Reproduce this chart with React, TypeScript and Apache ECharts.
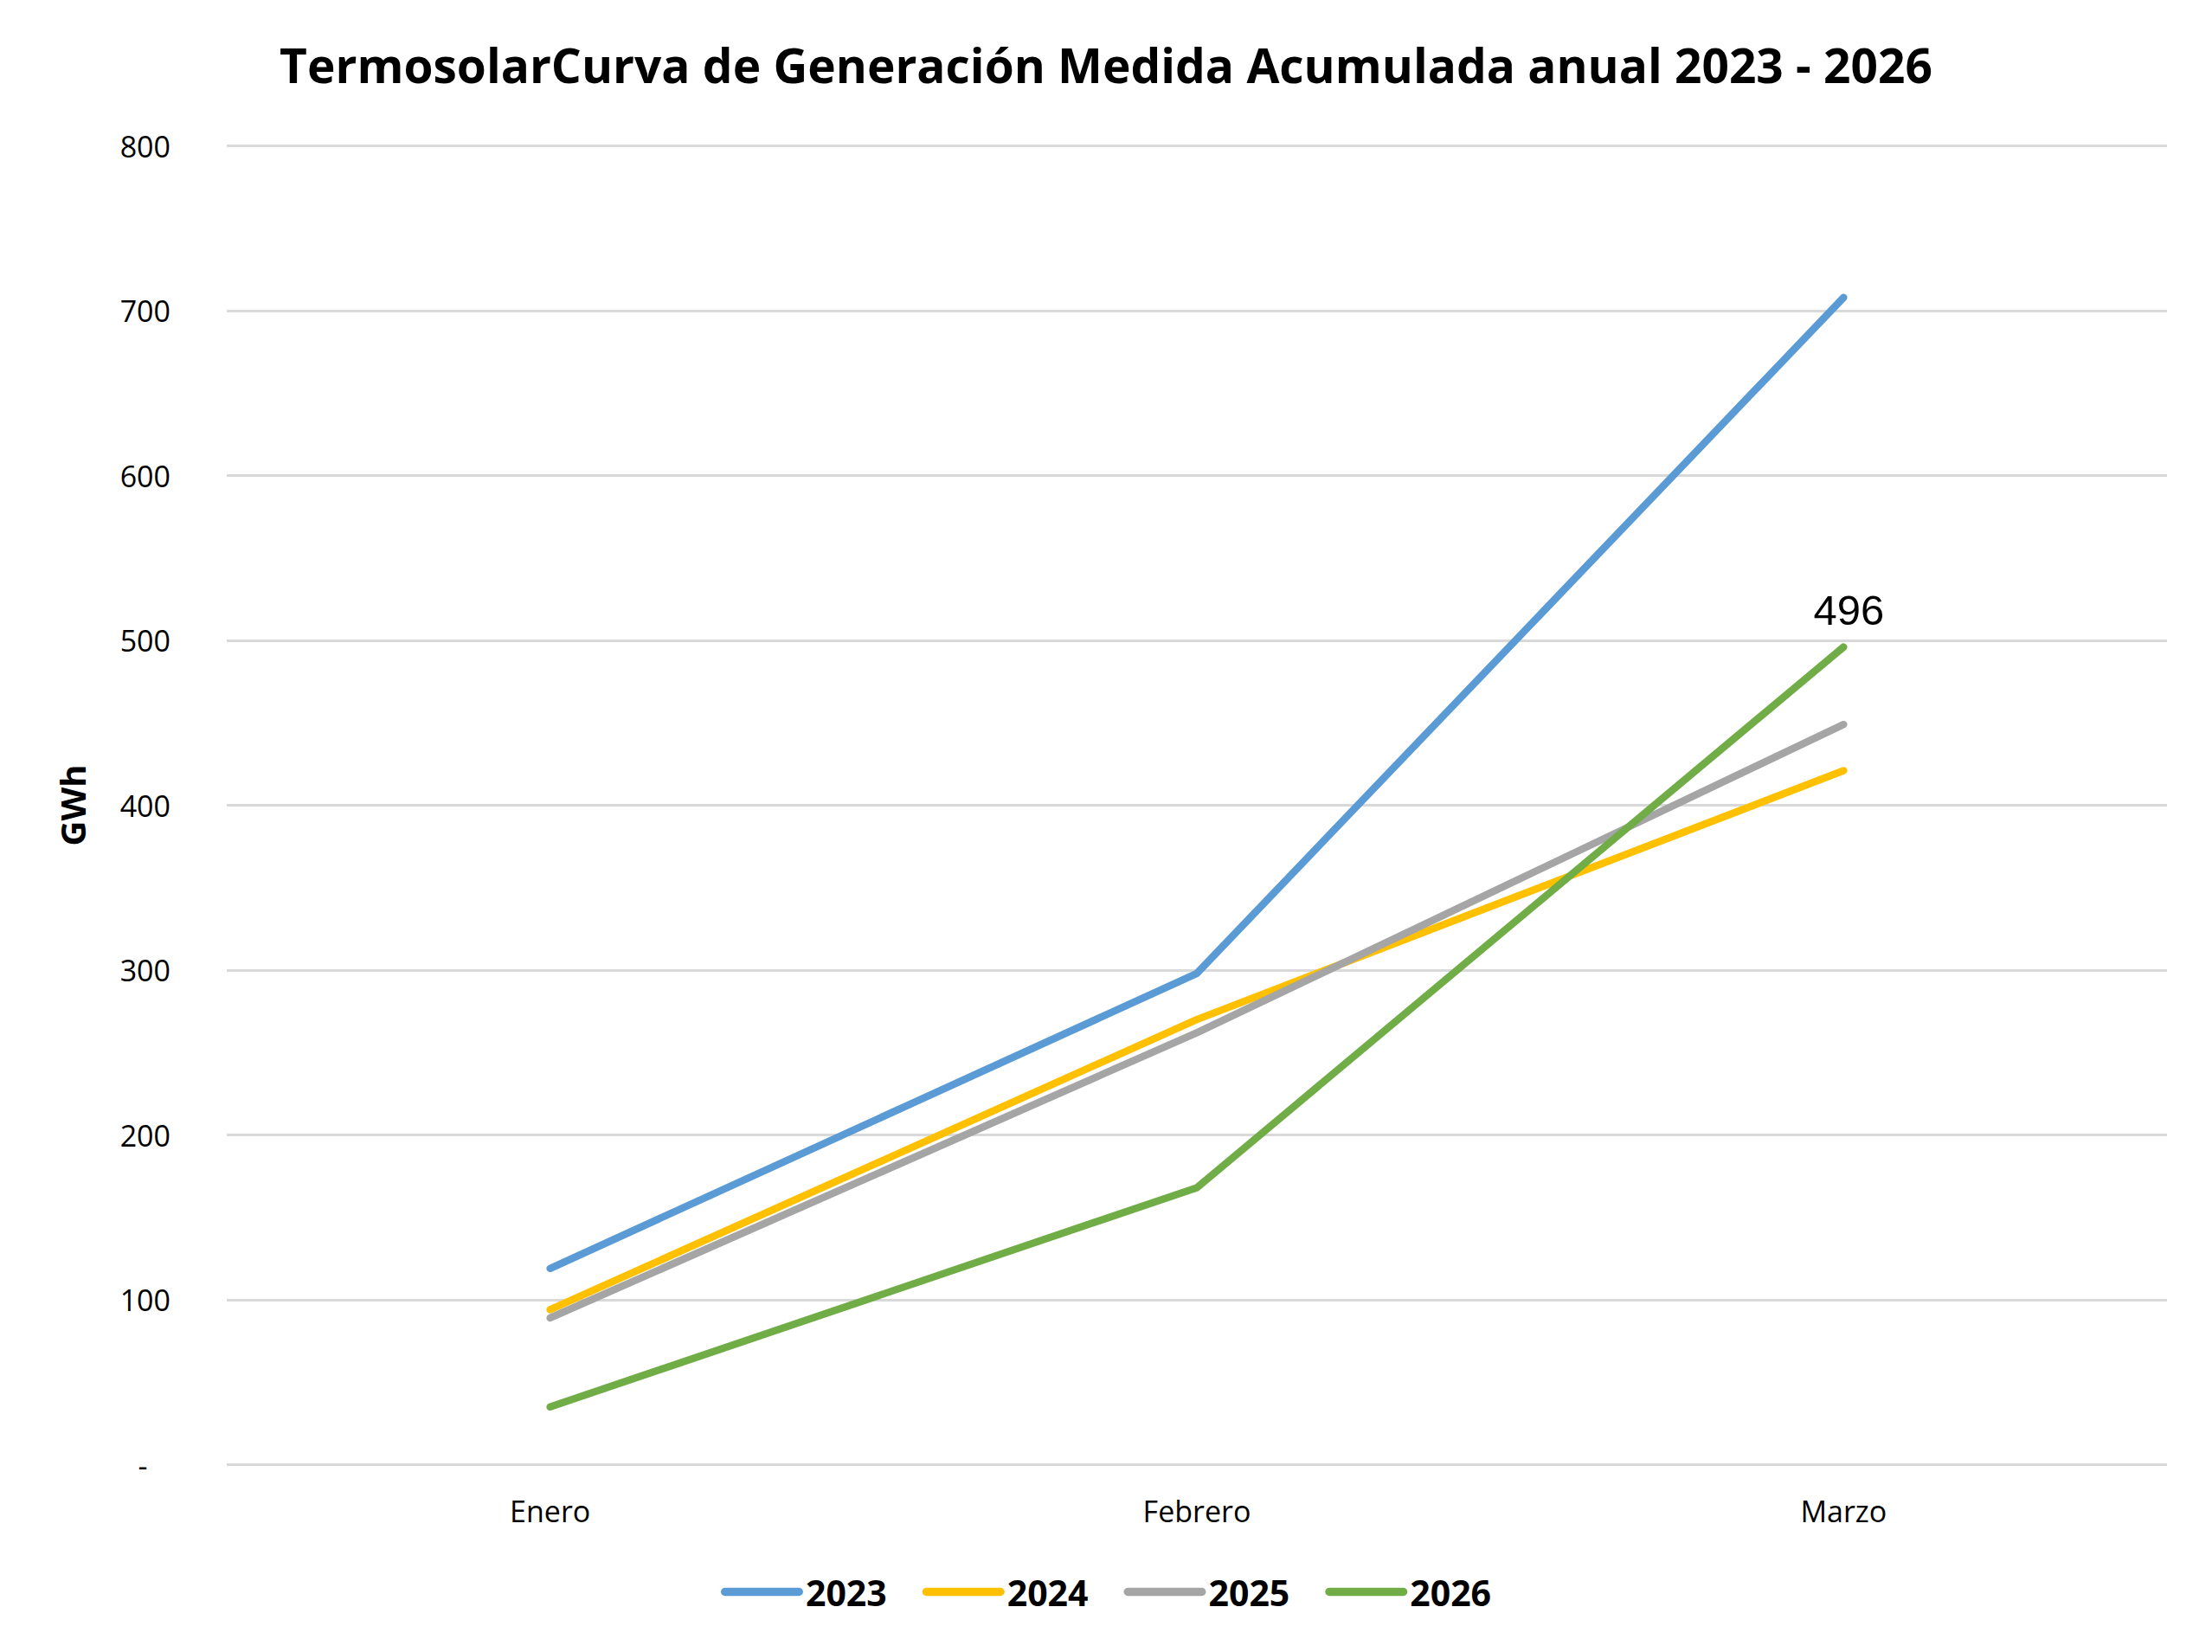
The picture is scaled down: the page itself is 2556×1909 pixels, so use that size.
import React, { useEffect, useRef } from "react";
import * as echarts from "echarts";

const categories = ["Enero", "Febrero", "Marzo"];
const seriesNames = ["2023", "2024", "2025", "2026"];
const values2023 = [119, 298, 708];
const values2024 = [94, 270, 421];
const values2025 = [89, 262, 449];
const values2026 = [35, 168, 496];
const seriesColors = ["#5B9BD5", "#FFC000", "#A5A5A5", "#70AD47"];
const titleText = "TermosolarCurva de Generación Medida Acumulada anual 2023 - 2026";
const yAxisName = "GWh";
const yTicks = { min: 0, max: 800, interval: 100 };
const labelledSeries = 3;
const labelledIndex = 2;

const FONT = "'Open Sans', 'DejaVu Sans', sans-serif";

export default function App() {
  const ref = useRef<HTMLDivElement>(null);
  useEffect(() => {
    if (!ref.current) return;
    const chart = echarts.init(ref.current, undefined, { renderer: "svg" });
    const allValues = [values2023, values2024, values2025, values2026];
    const series = seriesNames.map((name, i) => ({
      name,
      type: "line",
      data: allValues[i],
      symbol: "circle",
      symbolSize: 1,
      showSymbol: i === labelledSeries,
      lineStyle: { color: seriesColors[i], width: 8.5, cap: "round", join: "round" },
      itemStyle: { color: seriesColors[i] },
      label: {
        show: i === labelledSeries,
        position: "top",
        distance: 18,
        formatter: (p: any) => (p.dataIndex === labelledIndex ? String(p.value) : ""),
        fontFamily: "'Liberation Sans', Arial, sans-serif",
        fontSize: 49,
        color: "#000",
        offset: [6, 0],
      },
    }));
    chart.setOption({
      animation: false,
      backgroundColor: "#fff",
      title: {
        text: titleText,
        left: "center",
        top: 42,
        textStyle: { fontFamily: FONT, fontWeight: "bold", fontSize: 55, color: "#000" },
      },
      legend: {
        data: seriesNames,
        bottom: 44,
        left: "center",
        itemWidth: 95,
        itemHeight: 10,
        itemGap: 41,
        icon: "path://M5,0 L95,0 A5,5 0 0 1 95,10 L5,10 A5,5 0 0 1 5,0 Z",
        textStyle: { fontFamily: FONT, fontWeight: "bold", fontSize: 41, color: "#000", padding: [0, 0, 0, -2] },
      },
      grid: { left: 262, right: 52, top: 168.5, bottom: 216.5, containLabel: false },
      xAxis: {
        type: "category",
        data: categories,
        boundaryGap: true,
        axisLine: { show: false },
        axisTick: { show: false },
        axisLabel: { fontFamily: FONT, fontSize: 34, color: "#000", margin: 36 },
      },
      yAxis: {
        type: "value",
        min: yTicks.min,
        max: yTicks.max,
        interval: yTicks.interval,
        name: yAxisName,
        nameLocation: "middle",
        nameGap: 159,
        nameRotate: 90,
        nameTextStyle: { fontFamily: FONT, fontWeight: "bold", fontSize: 40, color: "#000" },
        axisLine: { show: false },
        axisTick: { show: false },
        axisLabel: {
          fontFamily: FONT,
          fontSize: 34,
          color: "#000",
          margin: 65,
          formatter: (v: number) => (v === 0 ? "-   " : String(v)),
        },
        splitLine: { show: true, lineStyle: { color: "#D9D9D9", width: 3 } },
      },
      series,
    });
    return () => chart.dispose();
  }, []);
  return (
    <div
      ref={ref}
      style={{ position: "fixed", left: 0, top: 0, width: 2556, height: 1909, background: "#fff" }}
    />
  );
}
